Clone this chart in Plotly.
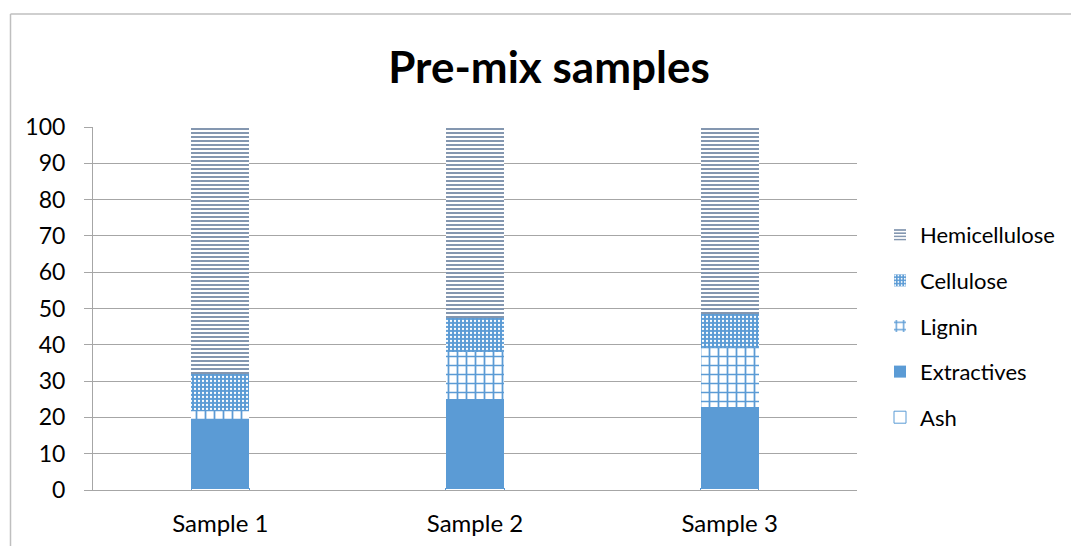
import plotly.graph_objects as go

# Composition of the pre-mix samples (%), stacked from the bottom up
samples = ["Sample 1", "Sample 2", "Sample 3"]
ash = [0.5, 0.5, 0.5]
extractives = [18.8, 24.5, 22.4]
lignin = [2.7, 12.9, 16.3]
cellulose = [9.9, 9.4, 9.4]
hemicellulose = [68.1, 52.7, 51.4]
y_ticks = [0, 10, 20, 30, 40, 50, 60, 70, 80, 90, 100]

BLUE = "#5b9bd5"
SLATE = "#8497b0"
FONT = "Lato, Carlito, Calibri, sans-serif"

W, H = 1071, 546
L, R, T, B = 93, 214, 127, 56

fig = go.Figure()

fig.add_bar(
    name="Ash", x=samples, y=ash, legendgroup="a", legendrank=5,
    marker=dict(color="white", line=dict(color=BLUE, width=1)),
)
fig.add_bar(
    name="Extractives", x=samples, y=extractives, legendgroup="e", legendrank=4,
    marker=dict(color=BLUE, line=dict(width=0)),
)
fig.add_bar(
    name="Lignin", x=samples, y=lignin, legendgroup="l", legendrank=3,
    marker=dict(
        color="white", line=dict(width=0),
        pattern=dict(shape="+", fgcolor=BLUE, bgcolor="white", fgopacity=1,
                     size=9, solidity=0.35, fillmode="overlay"),
    ),
)
fig.add_bar(
    name="Cellulose", x=samples, y=cellulose, legendgroup="c", legendrank=2,
    marker=dict(
        color=BLUE, line=dict(width=0),
        pattern=dict(shape=".", fgcolor="white", bgcolor=BLUE, fgopacity=1,
                     size=4, solidity=0.25, fillmode="overlay"),
    ),
)
fig.add_bar(
    name="Hemicellulose", x=samples, y=hemicellulose, legendgroup="h", legendrank=1,
    marker=dict(
        color="white", line=dict(width=0),
        pattern=dict(shape="-", fgcolor=SLATE, bgcolor="white", fgopacity=1,
                     size=4, solidity=0.5, fillmode="overlay"),
    ),
)

pw = W - L - R
ph = H - T - B


def px_x(p):
    return (p - L) / pw


def px_y(p):
    return (H - B - p) / ph


# outer chart frame (left and top edges)
frame = dict(type="line", xref="paper", yref="paper",
             line=dict(color="#bfbfbf", width=1.5))
fig.add_shape(**frame, x0=px_x(10.5), x1=px_x(10.5), y0=px_y(14), y1=px_y(560))
fig.add_shape(**frame, x0=px_x(10.5), x1=px_x(1080), y0=px_y(14), y1=px_y(14))

fig.update_layout(
    width=W, height=H,
    margin=dict(l=L, r=R, t=T, b=B, pad=0, autoexpand=False),
    paper_bgcolor="white", plot_bgcolor="white",
    barmode="stack", bargap=0.772,
    font=dict(family=FONT, size=23, color="#000000"),
    title=dict(text="<b>Pre-mix samples</b>", x=549 / W, xref="container",
               y=1 - 68 / H, yref="container", xanchor="center", yanchor="middle",
               font=dict(family=FONT, size=44, color="#000000")),
    legend=dict(x=px_x(880), y=px_y(326), xanchor="left", yanchor="middle",
                traceorder="grouped", tracegroupgap=14,
                font=dict(family=FONT, size=22), itemwidth=30,
                bgcolor="rgba(0,0,0,0)"),
    showlegend=True,
)

fig.update_yaxes(
    range=[0, 100], tickvals=y_ticks, ticktext=[str(v) for v in y_ticks],
    showgrid=True, gridcolor="#a6a6a6", gridwidth=1,
    showline=True, linecolor="#a6a6a6", linewidth=1,
    ticks="outside", ticklen=8, tickcolor="#a6a6a6",
    zeroline=False, tickfont=dict(size=23), ticklabelstandoff=14,
)
fig.update_xaxes(
    showline=True, linecolor="#a6a6a6", linewidth=1,
    showgrid=False, ticks="", tickfont=dict(size=24), ticklabelstandoff=12,
)

fig.write_html("out.html")
